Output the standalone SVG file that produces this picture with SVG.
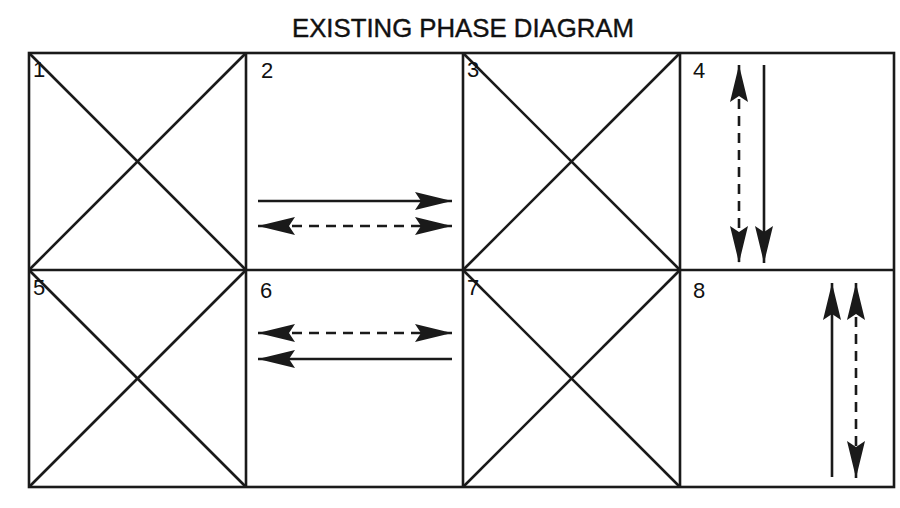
<svg xmlns="http://www.w3.org/2000/svg" width="900" height="508" viewBox="0 0 900 508">
<style>
.ln{stroke:#1a1a1a;stroke-width:2.6;fill:none}
.ar{stroke:#1a1a1a;stroke-width:2.6;fill:none}
.da{stroke-dasharray:10 7}
.t{font-family:"Liberation Sans",Arial,sans-serif;fill:#111}
.lb{font-size:22px}
</style>
<defs>
<marker id="ah" viewBox="0 0 38 20" refX="37" refY="10" markerWidth="38" markerHeight="20" markerUnits="userSpaceOnUse" orient="auto-start-reverse">
<path d="M37,10 L0,1 L6,10 L0,19 Z" fill="#1a1a1a"/>
</marker>
</defs>
<rect width="900" height="508" fill="#fff"/>
<text class="t" x="463" y="37" font-size="25" text-anchor="middle" textLength="342" lengthAdjust="spacingAndGlyphs" stroke="#111" stroke-width="0.4">EXISTING PHASE DIAGRAM</text>
<g id="grid">
<rect class="ln" x="29" y="53" width="865" height="434"/>
<line class="ln" x1="29" y1="270" x2="894" y2="270"/>
<line class="ln" x1="246" y1="53" x2="246" y2="487"/>
<line class="ln" x1="463" y1="53" x2="463" y2="487"/>
<line class="ln" x1="680" y1="53" x2="680" y2="487"/>
</g>
<g id="cell1"><line class="ln" x1="29" y1="53" x2="246" y2="270"/><line class="ln" x1="246" y1="53" x2="29" y2="270"/><text class="t lb" x="33" y="77">1</text></g>
<g id="cell2"><text class="t lb" x="261" y="78">2</text></g>
<g id="cell3"><line class="ln" x1="463" y1="53" x2="680" y2="270"/><line class="ln" x1="680" y1="53" x2="463" y2="270"/><text class="t lb" x="467" y="77">3</text></g>
<g id="cell4"><text class="t lb" x="693" y="78">4</text></g>
<g id="cell5"><line class="ln" x1="29" y1="270" x2="246" y2="487"/><line class="ln" x1="246" y1="270" x2="29" y2="487"/><text class="t lb" x="33" y="295">5</text></g>
<g id="cell6"><text class="t lb" x="260" y="298">6</text></g>
<g id="cell7"><line class="ln" x1="463" y1="270" x2="680" y2="487"/><line class="ln" x1="680" y1="270" x2="463" y2="487"/><text class="t lb" x="467" y="295">7</text></g>
<g id="cell8"><text class="t lb" x="693" y="298">8</text></g>
<g id="connectors">
<line class="ar" x1="258" y1="201" x2="452" y2="201" marker-end="url(#ah)"/>
<line class="ar da" x1="258" y1="226" x2="452" y2="226" marker-start="url(#ah)" marker-end="url(#ah)"/>
<line class="ar da" x1="739" y1="65" x2="739" y2="263" marker-start="url(#ah)" marker-end="url(#ah)"/>
<line class="ar" x1="764" y1="65" x2="764" y2="263" marker-end="url(#ah)"/>
<line class="ar da" x1="258" y1="333" x2="452" y2="333" marker-start="url(#ah)" marker-end="url(#ah)"/>
<line class="ar" x1="452" y1="359" x2="258" y2="359" marker-end="url(#ah)"/>
<line class="ar" x1="832" y1="477" x2="832" y2="283" marker-end="url(#ah)"/>
<line class="ar da" x1="856" y1="283" x2="856" y2="478" marker-start="url(#ah)" marker-end="url(#ah)"/>
</g>
</svg>
